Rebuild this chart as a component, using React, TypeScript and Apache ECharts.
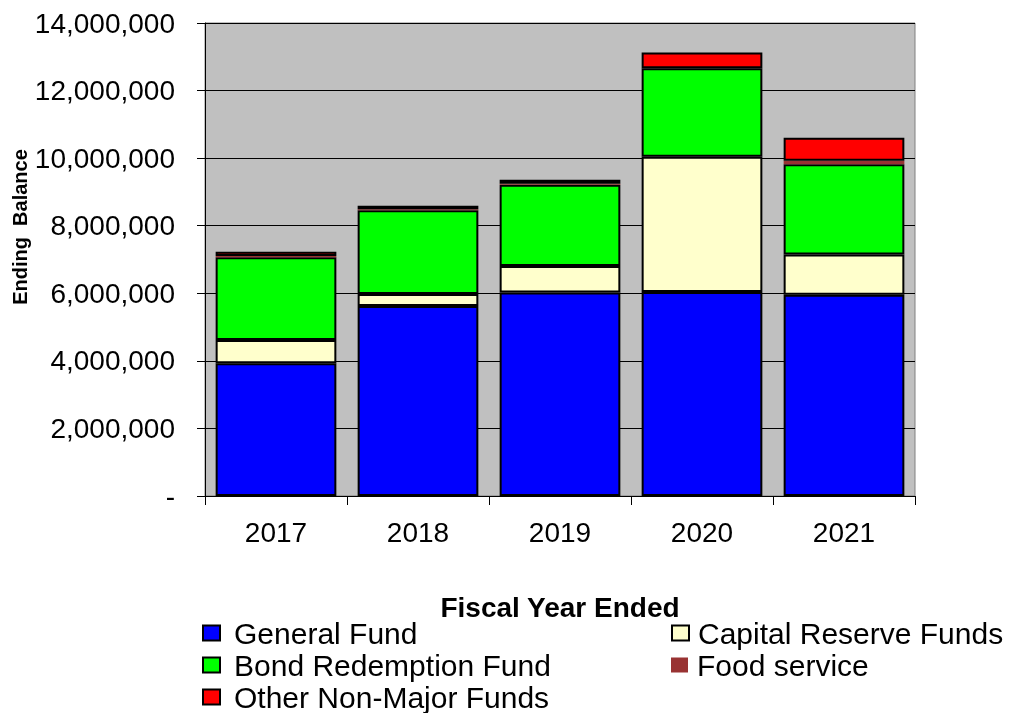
import React, { useEffect, useRef } from "react";
import * as echarts from "echarts";

const years = ["2017", "2018", "2019", "2020", "2021"];
const generalFund = [3930000, 5620000, 6020000, 6040000, 5960000];
const capitalReserve = [690000, 360000, 790000, 4000000, 1190000];
const bondRedemption = [2450000, 2480000, 2400000, 2620000, 2670000];
const foodService = [30000, 30000, 30000, 0, 100000];
const otherNonMajor = [130000, 100000, 120000, 470000, 680000];

const FONT = "Liberation Sans, Arial, sans-serif";

export default function App() {
  const ref = useRef<HTMLDivElement>(null);
  useEffect(() => {
    if (!ref.current) return;
    const chart = echarts.init(ref.current, undefined, { renderer: "svg" });
    const border = { borderColor: "#000", borderWidth: 2 };
    const mk = (name: string, data: number[], color: string, bw = 2) => ({
      name,
      type: "bar",
      stack: "total",
      data,
      barCategoryGap: "15%",
      itemStyle: { color, borderColor: "#000", borderWidth: bw },
    });
    const leg = (name: string, left: number, top: number, itemStyle: any, pad: number) => ({
      orient: "vertical",
      left,
      top,
      itemWidth: 17,
      itemHeight: 15,
      itemGap: 0,
      padding: 0,
      icon: "rect",
      textStyle: {
        fontFamily: FONT,
        fontSize: 30,
        color: "#000",
        lineHeight: 32,
        padding: [0, 0, 0, pad],
      },
      data: [{ name, itemStyle }],
    });
    chart.setOption({
      animation: false,
      textStyle: { fontFamily: FONT },
      grid: {
        left: 205,
        right: 98,
        top: 23,
        bottom: 217,
        show: true,
        backgroundColor: "#C0C0C0",
        borderColor: "#808080",
        borderWidth: 1,
        outerBoundsMode: "none",
        containLabel: false,
      },
      graphic: [
        {
          type: "text",
          x: 20,
          y: 227,
          rotation: Math.PI / 2,
          style: {
            text: "Ending  Balance",
            fontFamily: FONT,
            fontSize: 20,
            fontWeight: "bold",
            fill: "#000",
            align: "center",
            verticalAlign: "middle",
          },
        },
      ],
      xAxis: {
        type: "category",
        data: years,
        name: "Fiscal Year Ended",
        nameLocation: "middle",
        nameGap: 97,
        nameTextStyle: { fontFamily: FONT, fontSize: 28, fontWeight: "bold", color: "#000" },
        axisLine: { lineStyle: { color: "#000", width: 1 } },
        axisTick: { show: true, length: 9, lineStyle: { color: "#000" } },
        axisLabel: { fontFamily: FONT, fontSize: 28, color: "#000", margin: 22 },
      },
      yAxis: {
        type: "value",
        min: 0,
        max: 14000000,
        interval: 2000000,
        axisLine: { show: true, lineStyle: { color: "#000", width: 1 } },
        axisTick: { show: true, length: 8, lineStyle: { color: "#000" } },
        splitLine: { show: true, lineStyle: { color: "#000", width: 1 } },
        axisLabel: {
          fontFamily: FONT,
          fontSize: 28,
          color: "#000",
          margin: 30,
          formatter: (v: number) => (v === 0 ? "-" : v.toLocaleString("en-US")),
        },
      },
      legend: [
        leg("General Fund", 202, 617, border, 9),
        leg("Bond Redemption Fund", 202, 649, border, 9),
        leg("Other Non-Major Funds", 202, 681, border, 9),
        leg("Capital Reserve Funds", 671, 617, border, 4),
        leg("Food service", 671, 649, { borderWidth: 0 }, 4),
      ],
      series: [
        mk("General Fund", generalFund, "#0000FF"),
        mk("Capital Reserve Funds", capitalReserve, "#FFFFCC"),
        mk("Bond Redemption Fund", bondRedemption, "#00FF00"),
        mk("Food service", foodService, "#993333", 0),
        mk("Other Non-Major Funds", otherNonMajor, "#FF0000"),
      ],
    });
    return () => chart.dispose();
  }, []);
  return (
    <div
      ref={ref}
      style={{ position: "fixed", left: 0, top: 0, width: 1013, height: 713 }}
    />
  );
}
